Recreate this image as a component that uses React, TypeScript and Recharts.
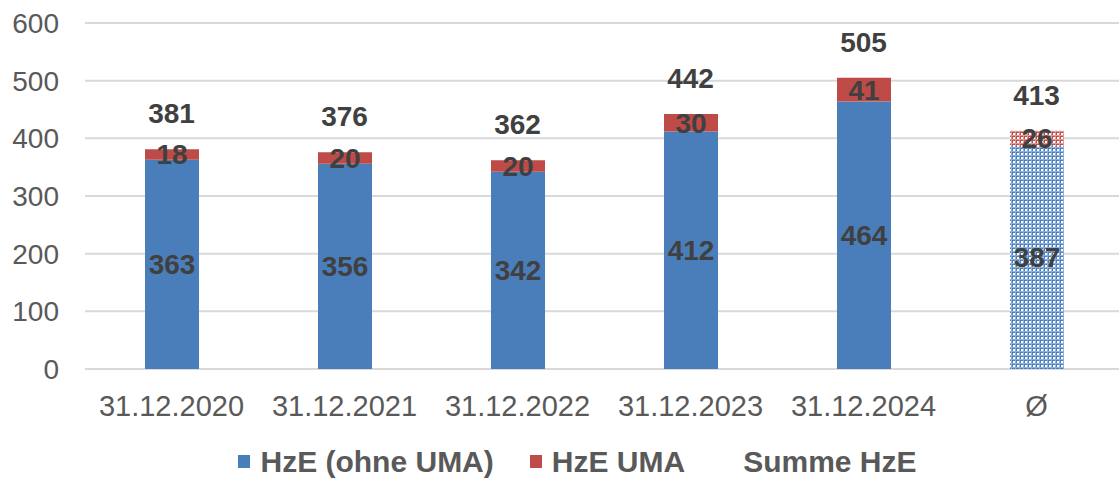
import React from "react";
import { ComposedChart, Bar, Line, XAxis, YAxis, CartesianGrid, Legend, LabelList, Cell } from "recharts";

const categories = ["31.12.2020", "31.12.2021", "31.12.2022", "31.12.2023", "31.12.2024", "Ø"];
const hzeOhneUma = [363, 356, 342, 412, 464, 387];
const hzeUma = [18, 20, 20, 30, 41, 26];
const summeHze = [381, 376, 362, 442, 505, 413];
const yTicks = [0, 100, 200, 300, 400, 500, 600];

const BLUE = "#4a7ebb";
const RED = "#be4b48";
const FONT = "'Liberation Sans', Arial, sans-serif";

const data = categories.map((c, i) => ({
  name: c,
  ohne: hzeOhneUma[i],
  uma: hzeUma[i],
  total: summeHze[i],
}));

const labelStyle = { fill: "#404040", fontSize: 28, fontWeight: 700, fontFamily: FONT };

const LegendContent = () => {
  const items = [
    { label: "HzE (ohne UMA)", color: BLUE },
    { label: "HzE UMA", color: RED },
    { label: "Summe HzE", color: "transparent" },
  ];
  return (
    <div style={{ display: "flex", justifyContent: "center", alignItems: "center", fontFamily: FONT, fontSize: 30, fontWeight: 700, color: "#595959", height: 49, transform: "translateY(8px)", paddingLeft: 32, boxSizing: "border-box" }}>
      {items.map((it) => (
        <div key={it.label} style={{ display: "flex", alignItems: "center", margin: "0 18px" }}>
          <span style={{ display: "inline-block", width: 12, height: 13, background: it.color, marginRight: 10 }} />
          <span>{it.label}</span>
        </div>
      ))}
    </div>
  );
};

export default function App() {
  return (
    <div style={{ position: "absolute", left: 0, top: 0, width: 1119, height: 478, overflow: "hidden", background: "#fff" }}>
      <ComposedChart width={1123} height={478} data={data} margin={{ top: 23, right: 0, left: 0, bottom: 0 }}>
        <defs>
          <pattern id="patBlue" width="4" height="4" patternUnits="userSpaceOnUse">
            <rect width="4" height="4" fill={BLUE} />
            <rect x="1" y="1" width="2" height="2" fill="#ffffff" />
            <rect x="3" y="0" width="1" height="4" fill="#8fb0da" />
            <rect x="0" y="3" width="4" height="1" fill="#8fb0da" />
          </pattern>
          <pattern id="patRed" width="4" height="4" patternUnits="userSpaceOnUse">
            <rect width="4" height="4" fill={RED} />
            <rect x="1" y="1" width="2" height="2" fill="#ffffff" />
            <rect x="3" y="0" width="1" height="4" fill="#dc9a98" />
            <rect x="0" y="3" width="4" height="1" fill="#dc9a98" />
          </pattern>
        </defs>
        <CartesianGrid vertical={false} stroke="#d9d9d9" strokeWidth={2} />
        <XAxis
          dataKey="name"
          height={60}
          axisLine={false}
          tickLine={false}
          tickMargin={20}
          interval={0}
          tick={{ fill: "#595959", fontSize: 29, fontFamily: FONT }}
        />
        <YAxis
          width={85}
          domain={[0, 600]}
          ticks={yTicks}
          axisLine={false}
          tickLine={false}
          tickMargin={20}
          tick={{ fill: "#595959", fontSize: 28, fontFamily: FONT }}
        />
        <Legend verticalAlign="bottom" height={49} content={<LegendContent />} />
        <Bar dataKey="ohne" stackId="a" fill={BLUE} barSize={54} isAnimationActive={false}>
          {data.map((d, i) => (
            <Cell key={i} fill={i === data.length - 1 ? "url(#patBlue)" : BLUE} />
          ))}
          <LabelList dataKey="ohne" position="center" style={labelStyle} />
        </Bar>
        <Bar dataKey="uma" stackId="a" fill={RED} barSize={54} isAnimationActive={false}>
          {data.map((d, i) => (
            <Cell key={i} fill={i === data.length - 1 ? "url(#patRed)" : RED} />
          ))}
          <LabelList dataKey="uma" position="center" style={labelStyle} />
        </Bar>
        <Line dataKey="total" stroke="none" dot={false} activeDot={false} legendType="none" isAnimationActive={false}>
          <LabelList dataKey="total" position="top" offset={26} style={labelStyle} />
        </Line>
      </ComposedChart>
    </div>
  );
}
